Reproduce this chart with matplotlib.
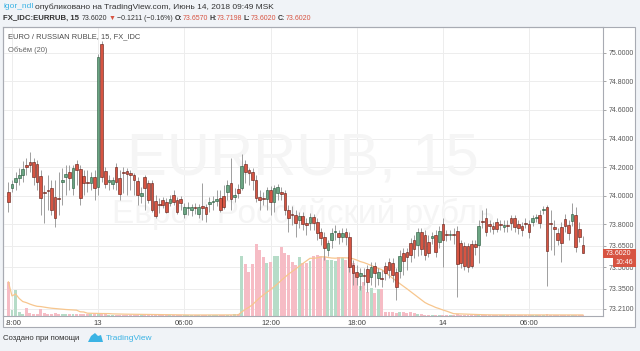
import matplotlib
matplotlib.use('Agg')
import matplotlib.pyplot as plt
from matplotlib.patches import Rectangle, Polygon
from matplotlib.transforms import Bbox, TransformedBbox
import numpy as np
import pandas as pd

# EURRUB 15m, свечи с 12 июня 17:45 до 14 июня 09:45
opens = [
    74.026, 74.054, 74.096, 74.124, 74.145, 74.215, 74.236, 74.236, 74.222, 74.138,
    74.026, 74.040, 74.054, 73.991, 73.984, 74.096, 74.131, 74.166, 74.054, 74.222,
    74.187, 74.138, 74.096, 74.089, 74.131, 74.061, 75.061, 74.173, 74.096, 74.082,
    74.201, 74.124, 74.166, 74.173, 74.159, 74.145, 74.103, 73.998, 74.131, 74.089,
    74.089, 73.963, 73.942, 73.970, 73.956, 73.949, 74.005, 73.970, 73.977, 73.872,
    73.914, 73.900, 73.921, 73.872, 73.928, 73.921, 73.942, 73.956, 73.963, 73.984,
    73.998, 74.026, 74.089, 73.991, 74.047, 74.054, 74.222, 74.180, 74.166, 74.110,
    73.991, 73.984, 73.977, 74.040, 73.956, 74.019, 74.026, 74.019, 73.900, 73.872,
    73.865, 73.830, 73.858, 73.809, 73.809, 73.851, 73.816, 73.746, 73.711, 73.620,
    73.690, 73.746, 73.739, 73.711, 73.746, 73.711, 73.515, 73.466, 73.438, 73.445,
    73.487, 73.431, 73.508, 73.424, 73.424, 73.508, 73.536, 73.529, 73.466, 73.473,
    73.599, 73.606, 73.669, 73.690, 73.655, 73.746, 73.725, 73.676, 73.704, 73.725,
    73.676, 73.802, 73.732, 73.725, 73.732, 73.753, 73.669, 73.648, 73.648, 73.662,
    73.662, 73.655, 73.823, 73.844, 73.802, 73.788, 73.816, 73.802, 73.781, 73.795,
    73.844, 73.844, 73.802, 73.788, 73.809, 73.802, 73.816, 73.844, 73.865, 73.900,
    73.921, 73.809, 73.781, 73.739, 73.781, 73.837, 73.795, 73.823, 73.865, 73.767,
    73.657]
highs = [
    74.096, 74.110, 74.166, 74.194, 74.243, 74.264, 74.306, 74.264, 74.250, 74.180,
    74.075, 74.145, 74.110, 74.110, 74.166, 74.194, 74.215, 74.215, 74.215, 74.250,
    74.215, 74.180, 74.180, 74.166, 74.180, 74.990, 75.082, 74.201, 74.145, 74.131,
    74.229, 74.180, 74.201, 74.194, 74.180, 74.159, 74.131, 74.061, 74.145, 74.110,
    74.110, 74.005, 73.984, 73.991, 73.984, 74.005, 74.040, 73.991, 73.998, 73.949,
    73.956, 73.942, 73.949, 73.942, 74.089, 73.942, 73.991, 73.998, 74.040, 74.040,
    74.075, 74.110, 74.264, 74.054, 74.082, 74.292, 74.250, 74.194, 74.194, 74.145,
    74.040, 74.026, 74.061, 74.068, 74.075, 74.082, 74.061, 74.040, 73.935, 73.928,
    73.900, 73.886, 73.886, 73.844, 73.879, 73.872, 73.844, 73.774, 73.746, 73.690,
    73.774, 73.795, 73.760, 73.774, 73.774, 73.746, 73.550, 73.515, 73.494, 73.494,
    73.515, 73.536, 73.536, 73.494, 73.480, 73.536, 73.564, 73.564, 73.494, 73.620,
    73.634, 73.634, 73.704, 73.725, 73.774, 73.774, 73.760, 73.725, 73.746, 73.760,
    73.788, 73.844, 73.760, 73.760, 73.774, 73.788, 73.690, 73.676, 73.669, 73.690,
    73.690, 73.830, 73.900, 73.914, 73.830, 73.816, 73.844, 73.830, 73.830, 73.830,
    73.865, 73.865, 73.830, 73.816, 73.844, 73.830, 73.865, 73.872, 73.900, 73.928,
    73.935, 73.900, 73.830, 73.774, 73.816, 73.872, 73.830, 73.949, 73.921, 73.816,
    73.7198]
lows = [
    73.886, 74.026, 74.040, 74.075, 74.096, 74.145, 74.166, 74.075, 74.040, 73.865,
    73.809, 73.900, 73.865, 73.781, 73.865, 73.935, 74.005, 74.040, 74.005, 74.075,
    73.935, 74.005, 74.026, 74.040, 73.970, 74.005, 74.096, 74.054, 74.040, 74.047,
    74.040, 73.970, 74.019, 74.005, 74.040, 74.005, 73.935, 73.949, 73.900, 73.949,
    73.886, 73.844, 73.879, 73.914, 73.879, 73.928, 73.935, 73.872, 73.900, 73.844,
    73.865, 73.858, 73.872, 73.844, 73.830, 73.816, 73.886, 73.900, 73.928, 73.886,
    73.907, 73.970, 73.900, 73.956, 73.984, 74.040, 74.089, 74.075, 74.040, 73.956,
    73.900, 73.935, 73.900, 73.865, 73.886, 73.970, 73.970, 73.865, 73.746, 73.795,
    73.711, 73.774, 73.760, 73.725, 73.760, 73.760, 73.690, 73.655, 73.550, 73.578,
    73.634, 73.690, 73.662, 73.676, 73.655, 73.466, 73.375, 73.375, 73.340, 73.375,
    73.326, 73.375, 73.361, 73.375, 73.361, 73.410, 73.424, 73.396, 73.271, 73.424,
    73.445, 73.480, 73.536, 73.564, 73.578, 73.585, 73.550, 73.571, 73.662, 73.571,
    73.634, 73.501, 73.683, 73.690, 73.662, 73.291, 73.494, 73.480, 73.466, 73.494,
    73.585, 73.529, 73.774, 73.718, 73.746, 73.732, 73.746, 73.760, 73.746, 73.746,
    73.760, 73.746, 73.732, 73.718, 73.774, 73.704, 73.788, 73.816, 73.774, 73.872,
    73.368, 73.620, 73.585, 73.655, 73.536, 73.746, 73.690, 73.788, 73.606, 73.676,
    73.602]
closes = [
    73.956, 74.082, 74.124, 74.145, 74.187, 74.201, 74.215, 74.131, 74.096, 73.984,
    74.019, 74.033, 73.900, 73.844, 73.977, 74.110, 74.152, 74.124, 74.194, 74.180,
    73.984, 74.089, 74.089, 74.131, 74.054, 74.970, 74.131, 74.082, 74.110, 74.110,
    74.096, 74.012, 74.159, 74.152, 74.145, 74.110, 74.005, 74.019, 74.054, 73.970,
    73.900, 73.858, 73.935, 73.935, 73.886, 73.977, 73.956, 73.886, 73.949, 73.921,
    73.921, 73.921, 73.914, 73.921, 73.914, 73.872, 73.956, 73.963, 73.977, 73.900,
    73.921, 74.075, 73.977, 74.005, 74.019, 74.208, 74.166, 74.159, 74.110, 73.984,
    73.970, 73.977, 74.040, 73.956, 74.054, 74.061, 74.012, 73.900, 73.844, 73.865,
    73.809, 73.858, 73.802, 73.795, 73.851, 73.809, 73.739, 73.704, 73.634, 73.669,
    73.739, 73.753, 73.711, 73.739, 73.711, 73.501, 73.459, 73.431, 73.459, 73.438,
    73.396, 73.501, 73.459, 73.466, 73.417, 73.459, 73.480, 73.445, 73.361, 73.578,
    73.543, 73.571, 73.585, 73.627, 73.746, 73.627, 73.585, 73.599, 73.718, 73.606,
    73.753, 73.690, 73.725, 73.732, 73.725, 73.522, 73.529, 73.508, 73.501, 73.508,
    73.641, 73.788, 73.816, 73.746, 73.788, 73.767, 73.767, 73.795, 73.795, 73.788,
    73.809, 73.781, 73.774, 73.760, 73.802, 73.746, 73.844, 73.851, 73.809, 73.907,
    73.613, 73.802, 73.767, 73.690, 73.669, 73.788, 73.739, 73.872, 73.641, 73.711,
    73.602]
volumes = [
    34, 6, 26, 4, 2, 8, 3, 2, 2, 7,
    3, 2, 2, 3, 2, 2, 2, 2, 2, 2,
    2, 2, 2, 2, 2, 3, 3, 2, 1, 1,
    1, 1, 1, 1, 1, 1, 1, 1, 1, 1,
    1, 1, 1, 1, 1, 1, 1, 1, 1, 1,
    1, 1, 1, 1, 1, 1, 1, 1, 1, 1,
    1, 1, 1, 2, 2, 60, 52, 44, 52, 72,
    66, 59, 53, 54, 60, 60, 69, 63, 61, 54,
    51, 59, 53, 53, 55, 60, 61, 60, 59, 56,
    56, 55, 59, 58, 56, 59, 53, 38, 30, 34,
    24, 28, 23, 27, 27, 4, 4, 4, 3, 4,
    4, 3, 4, 3, 2, 2, 1, 1, 1, 1,
    1, 1, 1, 1, 1, 2, 1, 1, 1, 1,
    1, 2, 1, 1, 1, 1, 1, 1, 1, 1,
    1, 1, 1, 1, 1, 1, 1, 1, 1, 1,
    2, 1, 1, 1, 1, 1, 1, 1, 1, 1,
    1]

price_ticks = [75.0, 74.8, 74.6, 74.4, 74.2, 74.0, 73.8, 73.65, 73.5, 73.35, 73.21]
time_pos = [1, 25, 49, 73, 97, 121, 145]
time_labels = ['18:00', '13', '06:00', '12:00', '18:00', '14', '06:00']

W, H = 640, 351
def fx(px):
    return px / W
def fy(py):
    return 1 - py / H

plt.rcParams['font.family'] = ['Liberation Sans', 'DejaVu Sans']
fig = plt.figure(figsize=(6.4, 3.51), dpi=100, facecolor='#f0f3f7')

# белая рамка графика
fig.patches.append(Rectangle((fx(3), fy(327)), 632 / W, 300 / H, transform=fig.transFigure,
                             facecolor='white', edgecolor='#a8abb3', lw=0.8, zorder=-1))

rect = [fx(3), fy(316), 600 / W, 289 / H]
xlim = (-1.5, 165.6)
ylim = (73.159, 75.180)

ax_bg = fig.add_axes(rect)
ax_vol = fig.add_axes(rect)
ax = fig.add_axes(rect)
for a in (ax_bg, ax_vol, ax):
    a.set_xlim(*xlim)
ax_bg.set_ylim(*ylim)
ax.set_ylim(*ylim)
ax_bg.set_facecolor('white')
ax_bg.axis('off')
ax_vol.axis('off')
ax_vol.patch.set_visible(False)
ax.patch.set_visible(False)

# сетка и водяной знак
for v in price_ticks:
    ax_bg.axhline(v, color='#ededed', lw=0.7)
for t in time_pos:
    ax_bg.axvline(t, color='#ededed', lw=0.7)
ax_bg.text(0.5, (316 - 175) / 289, 'EURRUB, 15', transform=ax_bg.transAxes, ha='center',
           va='baseline', fontsize=43, color='#f5f5f5')
ax_bg.text(0.5, (316 - 223) / 289, 'Евро / Российский рубль', transform=ax_bg.transAxes,
           ha='center', va='baseline', fontsize=24, color='#f5f5f5')

o = np.array(opens)
h = np.array(highs)
l = np.array(lows)
c = np.array(closes)
idx = np.arange(len(o))
up = c >= o

# объём + SMA(20)
vol = np.array(volumes)
ax_vol.bar(idx, vol, width=0.82, color=np.where(up, '#b6dcc8', '#f6bcc5'), linewidth=0)
vol_ma = pd.Series(vol).rolling(20, min_periods=1).mean()
ax_vol.plot(idx, vol_ma, color='#f7c68e', lw=0.9)
ax_vol.set_ylim(0, vol.max() * 4.0)

# свечи
ax.vlines(idx, l, h, color='#8f8f8f', lw=0.6, zorder=2)
body_low = np.minimum(o, c)
body_h = np.maximum(np.abs(c - o), 0.0015)
ax.bar(idx, body_h, bottom=body_low, width=0.75,
       color=np.where(up, '#6ba583', '#d75442'),
       edgecolor=np.where(up, '#225437', '#5b1a13'), linewidth=0.4, zorder=3)

for s in ax.spines.values():
    s.set_color('#a8abb3')
    s.set_linewidth(0.8)
ax.yaxis.tick_right()
ax.set_yticks(price_ticks)
ax.set_yticklabels([f'{v:.4f}' for v in price_ticks])
ax.tick_params(axis='y', labelsize=5, labelcolor='#555555', color='#999999',
               length=2.5, width=0.6, pad=1.5)
ax.set_xticks(time_pos)
ax.set_xticklabels(time_labels)
ax.tick_params(axis='x', labelsize=5.5, labelcolor='#444444', length=0, pad=3)

fig.canvas.draw()
renderer = fig.canvas.get_renderer()
first = ax.get_xticklabels()[0]
first.set_clip_box(TransformedBbox(Bbox([[fx(6.4), 0], [1, 1]]), fig.transFigure))
first.set_clip_on(True)

# подписи внутри графика
fig.text(fx(8), fy(37), 'EURO / RUSSIAN RUBLE, 15, FX_IDC', fontsize=5.4, color='#4a4a4a', va='center')
fig.text(fx(8), fy(50), 'Объём (20)', fontsize=5.4, color='#666666', va='center')

# метки последней цены
fig.patches.append(Rectangle((fx(603), fy(258)), 33 / W, 9 / H, transform=fig.transFigure,
                             facecolor='#d75442', edgecolor='none', zorder=4))
fig.text(fx(606), fy(253.5), '73.6020', fontsize=5, color='white', va='center', zorder=5)
fig.patches.append(Rectangle((fx(613), fy(267)), 23 / W, 9 / H, transform=fig.transFigure,
                             facecolor='#d75442', edgecolor='none', zorder=4))
fig.text(fx(615.5), fy(262.5), '10:46', fontsize=5, color='white', va='center', zorder=5)

def run(x, y, parts):
    for s, col, wt, size, gap in parts:
        t = fig.text(fx(x), fy(y), s, fontsize=size, color=col, fontweight=wt, va='center')
        x += t.get_window_extent(renderer).width + gap
    return x

dark = '#333333'
red = '#d75442'
run(3, 7, [('igor_ndl', '#3bb3e4', 'normal', 6.0, 2),
           ('опубликовано на TradingView.com, Июнь 14, 2018 09:49 MSK', dark, 'normal', 6.0, 0)])
n = 5.0
run(3, 18, [('FX_IDC:EURRUB, 15', dark, 'bold', 5.6, 2.5),
            ('73.6020', dark, 'normal', n, 1.5),
            ('▼', red, 'normal', n, 1.2),
            ('−0.1211 (−0.16%)', dark, 'normal', n, 2),
            ('O:', dark, 'bold', n, 0.4), ('73.6570', red, 'normal', n, 1.5),
            ('H:', dark, 'bold', n, 0.4), ('73.7198', red, 'normal', n, 1.5),
            ('L:', dark, 'bold', n, 0.4), ('73.6020', red, 'normal', n, 1.5),
            ('C:', dark, 'bold', n, 0.4), ('73.6020', red, 'normal', n, 0)])

# подвал
run(3, 338, [('Создано при помощи', dark, 'normal', 5.6, 0)])
fig.patches.append(Polygon([(fx(88), fy(342)), (fx(91), fy(336)), (fx(95), fy(333)),
                            (fx(98), fy(336)), (fx(101), fy(335)), (fx(103), fy(342))],
                           closed=True, transform=fig.transFigure, facecolor='#3bb3e4',
                           edgecolor='none'))
fig.text(fx(106), fy(338), 'TradingView', fontsize=6, color='#3bb3e4', va='center')

fig.savefig('out.png', dpi=100, facecolor=fig.get_facecolor())
